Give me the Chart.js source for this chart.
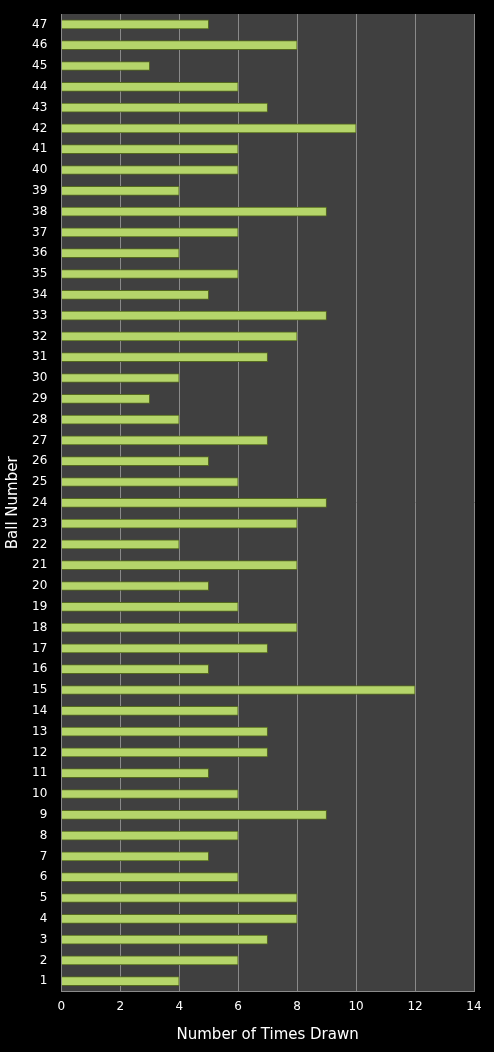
<!DOCTYPE html>
<html><head><meta charset="utf-8">
<script src="https://cdn.jsdelivr.net/npm/chart.js@4"></script>
<style>html,body{margin:0;background:#000}#w{width:494px;height:1052px}</style>
</head><body><div id="w"><canvas id="c"></canvas></div>
<script>
const balls = Array.from({length:47},(_,i)=>String(i+1));
const timesDrawn = [4,6,7,8,8,6,5,6,9,6,5,7,7,6,12,5,7,8,6,5,8,4,8,9,6,5,7,4,3,4,7,8,9,5,6,4,6,9,4,6,6,10,7,6,3,8,5];
const xTicks = [0,2,4,6,8,10,12,14];
const plotBg = {id:'plotBg',beforeDraw(ch){const a=ch.chartArea,c=ch.ctx;c.save();c.fillStyle='#404040';c.fillRect(a.left,a.top,a.right-a.left,a.bottom-a.top);c.restore();}};
new Chart(document.getElementById('c'),{
 type:'bar',
 data:{labels:balls,datasets:[{data:timesDrawn,
  backgroundColor:(ctx)=>{const ch=ctx.chart,a=ch.chartArea;if(!a)return '#b5d56a';
   const el=ctx.element; if(!el||el.y===undefined) return '#b5d56a';
   const g=ch.ctx.createLinearGradient(0,el.y-5,0,el.y+5);
   g.addColorStop(0,'#e4f3b8');g.addColorStop(0.5,'#b4d468');g.addColorStop(1,'#6f8a2c');return g;},
  borderColor:'#55691f',borderWidth:1,barThickness:9}]},
 options:{indexAxis:'y',responsive:true,maintainAspectRatio:false,animation:false,
  layout:{padding:{top:14,right:20,left:0,bottom:4}},
  plugins:{legend:{display:false},tooltip:{enabled:false}},
  scales:{
   x:{min:0,max:14,afterBuildTicks:(s)=>{s.ticks=xTicks.map(v=>({value:v}));},
      grid:{color:'#8a8a8a',drawTicks:false},border:{color:'#8a8a8a'},
      ticks:{color:'#fff',font:{family:'DejaVu Sans',size:12},padding:8},
      title:{display:true,text:'Number of Times Drawn',color:'#fff',font:{family:'DejaVu Sans',size:15}}},
   y:{reverse:true,grid:{display:false},border:{color:'#8a8a8a'},
      ticks:{color:'#fff',font:{family:'DejaVu Sans',size:12},autoSkip:false,padding:6},
      title:{display:true,text:'Ball Number',color:'#fff',font:{family:'DejaVu Sans',size:15}}}
  }},
 plugins:[plotBg]
});
</script></body></html>
